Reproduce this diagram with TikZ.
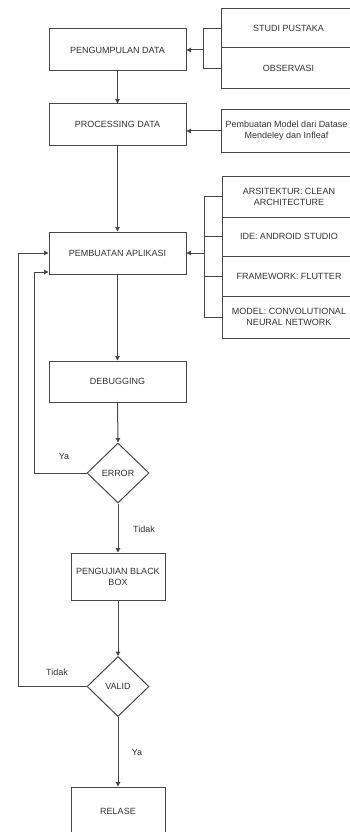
\documentclass[tikz,border=0pt]{standalone}
\usepackage{fontspec}
\setmainfont{Liberation Sans}
\usetikzlibrary{positioning,arrows.meta,shapes.geometric}

\begin{document}
\begin{tikzpicture}[x=1pt,y=-1pt,
    line width=1pt,
    >={Triangle[length=4.5pt,width=4.5pt]},
    box/.style={draw=black!72,rectangle,inner sep=1pt,align=center,
      text=black!80,font=\fontsize{9}{11}\selectfont},
    leftbox/.style={box,minimum width=137pt,minimum height=41pt},
    smallbox/.style={box,minimum width=94pt,minimum height=47pt},
    sidebox/.style={box,minimum width=134pt},
    decision/.style={draw=black!72,diamond,aspect=1,inner sep=0pt,
      minimum width=62pt,minimum height=60pt,text=black!80,
      font=\fontsize{9}{11}\selectfont},
    lbl/.style={text=black!80,font=\fontsize{9}{11}\selectfont,inner sep=0pt},
    link/.style={draw=black!72}]
        \useasboundingbox (0,0) rectangle (350,832);

        \draw (117.5,50) node[leftbox,minimum height=42pt] (kumpul) {PENGUMPULAN DATA};

        \draw (117.5,124.5) node[leftbox] (proses) {PROCESSING DATA};

        \draw (117.5,253) node[leftbox,minimum height=42pt] (aplikasi) {PEMBUATAN APLIKASI};

        \draw (117.5,381.5) node[leftbox] (debug) {DEBUGGING};

        \draw (118,473) node[decision] (error) {ERROR};

        \draw (118,576.5) node[smallbox] (uji) {PENGUJIAN BLACK\\BOX};

        \draw (118,686.5) node[decision] (valid) {VALID};

        \draw (118,811) node[smallbox,minimum height=48pt] (rilis) {RELASE};

        % sumber data
        \draw (288.5,28.5) node[sidebox,minimum height=39pt] (studi) {STUDI PUSTAKA};

        \draw (288.5,68.5) node[sidebox,minimum height=41pt] (obs) {OBSERVASI};

        \draw (286.5,131) node[sidebox,minimum width=131pt,minimum height=42pt] (model)
        {Pembuatan Model dari Datase\\Mendeley dan Infleaf};

        % komponen aplikasi
        \draw (289,196.5) node[sidebox,minimum height=41pt] (arsi) {ARSITEKTUR: CLEAN\\ARCHITECTURE};

        \draw (289,236.5) node[sidebox,minimum height=39pt] (ide) {IDE: ANDROID STUDIO};

        \draw (289,276) node[sidebox,minimum height=40pt] (flutter) {FRAMEWORK: FLUTTER};

        \draw (289,317) node[sidebox,minimum height=42pt] (cnn) {MODEL: CONVOLUTIONAL\\NEURAL NETWORK};

        \coordinate (j1) at (203,50);
        \coordinate (j2) at (204,253);
        \coordinate (fb1) at (34,272);
        \coordinate (fb2) at (18,253);

        % label
        \draw (64,456) node[lbl] (ya1) {Ya};

        \draw (144,529) node[lbl] (tidak1) {Tidak};

        \draw (57,672) node[lbl] (tidak2) {Tidak};

        \draw (137,752) node[lbl] (ya2) {Ya};

        \draw[link] (studi.west) -| (j1);

        \draw[link] (obs.west) -| (j1);

        \draw[link,->] (j1) to (kumpul.east);

        \draw[link,->] (model.west) to (model.west -| proses.east);

        \draw[link] (arsi.west) -| (j2);

        \draw[link] (ide.west) -| (j2);

        \draw[link] (flutter.west) -| (j2);

        \draw[link] (cnn.west) -| (j2);

        \draw[link,->] (j2) to (aplikasi.east);

        \draw[link,->] (kumpul.south) to (proses.north);

        \draw[link,->] (proses.south) to (aplikasi.north);

        \draw[link,->] (aplikasi.south) to (debug.north);

        \draw[link,->] (debug.south) to (error.north);

        \draw[link,->] (error.south) to (uji.north);

        \draw[link,->] (uji.south) to (valid.north);

        \draw[link,->] (valid.south) to (rilis.north);

        \draw[link,->] (error.west) -| (fb1) -- (fb1 -| aplikasi.west);

        \draw[link,->] (valid.west) -| (fb2) -- (aplikasi.west);
      \end{tikzpicture}
\end{document}
